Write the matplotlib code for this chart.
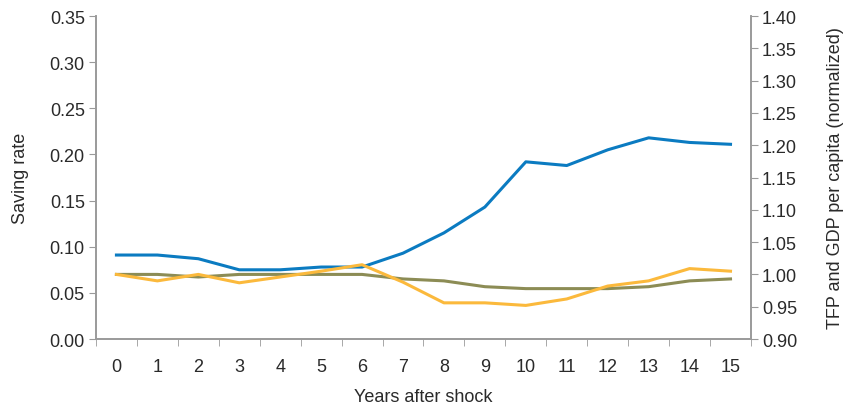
import numpy as np
import matplotlib.pyplot as plt
from matplotlib import font_manager

years = list(range(16))
saving_rate = [0.091, 0.091, 0.087, 0.075, 0.075, 0.078, 0.078, 0.093, 0.115, 0.143,
               0.192, 0.188, 0.205, 0.218, 0.213, 0.211]
tfp = [1.000, 0.990, 1.000, 0.987, 0.996, 1.005, 1.015, 0.988, 0.956, 0.956,
       0.952, 0.962, 0.982, 0.990, 1.009, 1.005]
gdp_pc = [1.000, 1.000, 0.996, 1.000, 1.000, 1.000, 1.000, 0.993, 0.990, 0.981,
          0.978, 0.978, 0.978, 0.981, 0.990, 0.993]

names = {f.name for f in font_manager.fontManager.ttflist}
fam = 'Liberation Sans Narrow' if 'Liberation Sans Narrow' in names else 'Liberation Sans'
plt.rcParams['font.family'] = [fam, 'DejaVu Sans']
plt.rcParams['font.size'] = 13

gray = '#9a9a9a'
txt = '#2a2a2a'
fig = plt.figure(figsize=(8.53, 4.10), dpi=100)
ax = fig.add_axes([0.1125, 0.1707, 0.7679, 0.7878])
ax2 = ax.twinx()

ax.plot(years, saving_rate, color='#0b7bc1', lw=2.2, zorder=3)
ax2.plot(years, gdp_pc, color='#8c8c55', lw=2.2)
ax2.plot(years, tfp, color='#fbb93c', lw=2.2)

ax.set_xlim(-0.5, 15.5)
ax.set_ylim(0, 0.35)
ax2.set_ylim(0.90, 1.40)
ax.set_yticks(np.arange(0, 0.351, 0.05))
ax.set_yticklabels([f'{v:.2f}' for v in np.arange(0, 0.351, 0.05)])
ax2.set_yticks(np.arange(0.90, 1.401, 0.05))
ax2.set_yticklabels([f'{v:.2f}' for v in np.arange(0.90, 1.401, 0.05)])

ax.set_xticks(years)
ax.set_xticklabels([str(y) for y in years])
ax.set_xticks(np.arange(-0.5, 15.6, 1), minor=True)
ax.tick_params(axis='x', which='major', length=0, pad=14, colors=txt)
ax.tick_params(axis='x', which='minor', length=5, color=gray)
ax.tick_params(axis='y', length=5, color=gray, pad=3, labelcolor=txt)
ax2.tick_params(axis='y', length=5, color=gray, pad=3, labelcolor=txt)

for a in (ax, ax2):
    a.spines['top'].set_visible(False)
    for s in ('left', 'right', 'bottom'):
        a.spines[s].set_color(gray)
        a.spines[s].set_linewidth(1.2)

ax.set_xlabel('Years after shock', labelpad=9, color=txt)
ax.set_ylabel('Saving rate', labelpad=15, color=txt)
ax2.set_ylabel('TFP and GDP per capita (normalized)', labelpad=21, color=txt)

fig.savefig('out.png', dpi=100)
